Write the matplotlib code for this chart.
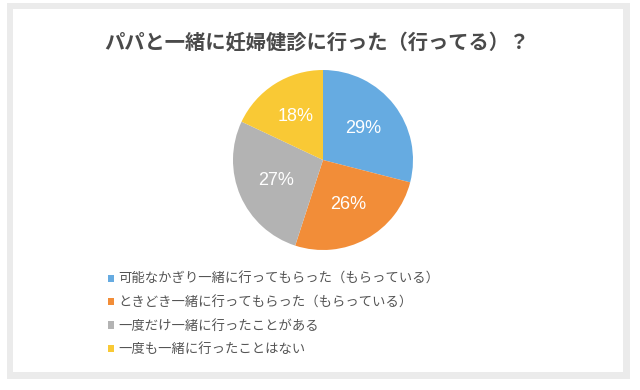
import matplotlib

matplotlib.use("Agg")
import matplotlib.pyplot as plt
from matplotlib.patches import Rectangle

plt.rcParams["font.family"] = ["Noto Sans CJK JP", "DejaVu Sans"]

title = "パパと一緒に妊婦健診に行った（行ってる）？"
labels = [
    "可能なかぎり一緒に行ってもらった（もらっている）",
    "ときどき一緒に行ってもらった（もらっている）",
    "一度だけ一緒に行ったことがある",
    "一度も一緒に行ったことはない",
]
values = [29, 26, 27, 18]
colors = ["#66abe1", "#f28d38", "#b3b3b3", "#f9c935"]

W, H = 640, 390
fig = plt.figure(figsize=(W / 100, H / 100), dpi=100)
fig.patch.set_facecolor("white")

# gray frame + white card
fig.patches.append(Rectangle((7 / W, 1 - 379 / H), 623 / W, 376 / H,
                             transform=fig.transFigure, facecolor="#ebebeb",
                             edgecolor="none", zorder=-2))
fig.patches.append(Rectangle((13 / W, 1 - 372 / H), 610 / W, 363 / H,
                             transform=fig.transFigure, facecolor="white",
                             edgecolor="none", zorder=-1))

fig.text(317 / W, 1 - 42 / H, title, ha="center", va="center",
         fontsize=14.6, fontweight="bold", color="#4a4a4a")

cx, cy, r = 323, 160, 90
ax = fig.add_axes([(cx - r) / W, 1 - (cy + r) / H, 2 * r / W, 2 * r / H])
ax.set_zorder(2)
wedges, _, autotexts = ax.pie(
    values, colors=colors, startangle=90, counterclock=False,
    autopct="%d%%", pctdistance=0.57,
    textprops=dict(color="white", fontsize=13, family=["Liberation Sans"]),
    wedgeprops=dict(linewidth=0),
)
ax.set_aspect("equal")
ax.set_xlim(-1, 1)
ax.set_ylim(-1, 1)
ax.axis("off")

leg = fig.legend(wedges, labels, loc="upper left",
                 bbox_to_anchor=(108 / W, 1 - 272 / H), frameon=False,
                 fontsize=9.6, labelcolor="#555555", handlelength=0.45,
                 handleheight=0.45, handletextpad=0.35, labelspacing=0.7,
                 borderaxespad=0, borderpad=0)
leg.set_zorder(3)

fig.savefig("out.png", dpi=100)
